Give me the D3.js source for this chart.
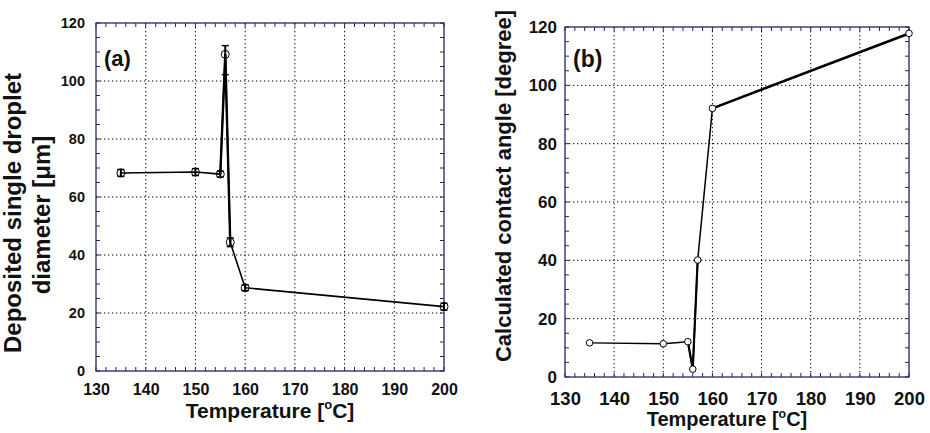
<!DOCTYPE html>
<html><head><meta charset="utf-8">
<script src="https://cdn.jsdelivr.net/npm/d3@7/dist/d3.min.js"></script>
<style>
body{margin:0;background:#fff;}
svg{display:block;font-family:"Liberation Sans",Arial,sans-serif;font-weight:bold;}
</style></head>
<body><svg id="c" width="930" height="433"></svg>
<script>
// ---- data ----
const tempsA = [135, 150, 155, 156, 157, 160, 200];
const diameterA = [68.3, 68.6, 67.9, 109.2, 44.4, 28.7, 22.2];
const errLowA = [1.2, 1.2, 1.0, 7.0, 1.5, 1.0, 1.2];
const errHighA = [1.2, 1.2, 1.0, 3.0, 1.5, 1.0, 1.2];
const tempsB = [135, 150, 155, 156, 157, 160, 200];
const angleB = [11.7, 11.4, 12.1, 2.7, 40.1, 92.1, 117.8];
const xTicks = [130, 140, 150, 160, 170, 180, 190, 200];
const yTicks = [0, 20, 40, 60, 80, 100, 120];

const svg = d3.select("#c");
const frameColor = "#25256a";

function panel(opt) {
  const x = d3.scaleLinear().domain([130, 200]).range([opt.left, opt.right]);
  const y = d3.scaleLinear().domain([0, 120]).range([opt.bottom, opt.top]);
  const g = svg.append("g");
  // grid
  g.selectAll(".gx").data(xTicks.slice(1, -1)).join("line")
    .attr("x1", d => x(d)).attr("x2", d => x(d)).attr("y1", opt.top).attr("y2", opt.bottom)
    .attr("stroke", "#000").attr("stroke-width", 1).attr("stroke-dasharray", "1.3,2.7");
  g.selectAll(".gy").data(yTicks.slice(1, -1)).join("line")
    .attr("y1", d => y(d)).attr("y2", d => y(d)).attr("x1", opt.left).attr("x2", opt.right)
    .attr("stroke", "#000").attr("stroke-width", 1).attr("stroke-dasharray", "1.3,2.7");
  // minor ticks
  const xm = d3.range(130, 201, 2), ym = d3.range(0, 121, 5);
  const tl = 4;
  g.selectAll(".mxb").data(xm).join("line")
    .attr("x1", d => x(d)).attr("x2", d => x(d)).attr("y1", opt.bottom).attr("y2", opt.bottom - tl)
    .attr("stroke", frameColor).attr("stroke-width", 1);
  g.selectAll(".mxt").data(xm).join("line")
    .attr("x1", d => x(d)).attr("x2", d => x(d)).attr("y1", opt.top).attr("y2", opt.top + tl)
    .attr("stroke", frameColor).attr("stroke-width", 1);
  g.selectAll(".myl").data(ym).join("line")
    .attr("y1", d => y(d)).attr("y2", d => y(d)).attr("x1", opt.left).attr("x2", opt.left + tl)
    .attr("stroke", frameColor).attr("stroke-width", 1);
  g.selectAll(".myr").data(ym).join("line")
    .attr("y1", d => y(d)).attr("y2", d => y(d)).attr("x1", opt.right).attr("x2", opt.right - tl)
    .attr("stroke", frameColor).attr("stroke-width", 1);
  // frame
  g.append("rect").attr("x", opt.left).attr("y", opt.top)
    .attr("width", opt.right - opt.left).attr("height", opt.bottom - opt.top)
    .attr("fill", "none").attr("stroke", frameColor).attr("stroke-width", 1.3);
  // tick labels via axes (no lines)
  const ax = g.append("g").attr("transform", `translate(0,${opt.bottom})`)
    .call(d3.axisBottom(x).tickValues(xTicks).tickSize(0).tickPadding(opt.xPad).tickFormat(d3.format("d")));
  ax.select(".domain").remove();
  ax.selectAll("text").attr("font-size", opt.xFs).attr("font-family", "Liberation Sans, Arial").attr("font-weight", "bold").attr("fill", "#111");
  const ay = g.append("g").attr("transform", `translate(${opt.left},0)`)
    .call(d3.axisLeft(y).tickValues(yTicks).tickSize(0).tickPadding(opt.yPad).tickFormat(d3.format("d")));
  ay.select(".domain").remove();
  ay.selectAll("text").attr("font-size", opt.yFs).attr("font-family", "Liberation Sans, Arial").attr("font-weight", "bold").attr("fill", "#111");
  return {x, y, g};
}

function tempTitle(x, y, fs) {
  const t = svg.append("text").attr("text-anchor", "middle").attr("font-size", fs).attr("fill", "#111")
    .attr("x", x).attr("y", y);
  t.append("tspan").text("Temperature [");
  t.append("tspan").text("o").attr("font-size", fs * 0.62).attr("dy", -fs * 0.42);
  t.append("tspan").text("C]").attr("dy", fs * 0.42);
}

// ---- panel (a) ----
const A = panel({left: 96, right: 444, top: 23, bottom: 371, xFs: 16, yFs: 14.5, xPad: 13, yPad: 11});
const lineA = d3.line().x((d, i) => A.x(tempsA[i])).y(d => A.y(d));
A.g.append("path").datum(diameterA).attr("d", lineA)
  .attr("fill", "none").attr("stroke", "#000").attr("stroke-width", 1.6).attr("stroke-linejoin", "round");
A.g.append("path").datum(diameterA.slice(2, 5)).attr("d", d3.line().x((d, i) => A.x(tempsA[i + 2])).y(d => A.y(d)))
  .attr("fill", "none").attr("stroke", "#000").attr("stroke-width", 2.4);
// error bars
tempsA.forEach((t, i) => {
  const cx = A.x(t), y1 = A.y(diameterA[i] - errLowA[i]), y2 = A.y(diameterA[i] + errHighA[i]);
  A.g.append("line").attr("x1", cx).attr("x2", cx).attr("y1", y1).attr("y2", y2).attr("stroke", "#000").attr("stroke-width", 2);
  [y1, y2].forEach(yy => A.g.append("line").attr("x1", cx - 3.5).attr("x2", cx + 3.5).attr("y1", yy).attr("y2", yy).attr("stroke", "#000").attr("stroke-width", 1.5));
});
A.g.selectAll(".pa").data(diameterA).join("circle")
  .attr("cx", (d, i) => A.x(tempsA[i])).attr("cy", d => A.y(d)).attr("r", 4)
  .attr("fill", "none").attr("stroke", "#000").attr("stroke-width", 1);
A.g.append("text").attr("x", 104).attr("y", 66).attr("font-size", 22).text("(a)").attr("fill", "#111");
tempTitle(270, 418, 21);
svg.append("text").attr("transform", "translate(21,213) rotate(-90)").attr("text-anchor", "middle")
  .attr("font-size", 24).attr("fill", "#111").text("Deposited single droplet");
svg.append("text").attr("transform", "translate(50,215) rotate(-90)").attr("text-anchor", "middle")
  .attr("font-size", 24).attr("fill", "#111").text("diameter [μm]");

// ---- panel (b) ----
const B = panel({left: 565, right: 909, top: 27, bottom: 377, xFs: 18.5, yFs: 17, xPad: 15, yPad: 8});
const lineB = d3.line().x((d, i) => B.x(tempsB[i])).y(d => B.y(d));
B.g.append("path").datum(angleB).attr("d", lineB)
  .attr("fill", "none").attr("stroke", "#000").attr("stroke-width", 1.5).attr("stroke-linejoin", "round");
B.g.append("path").datum(angleB.slice(5)).attr("d", d3.line().x((d, i) => B.x(tempsB[i + 5])).y(d => B.y(d)))
  .attr("fill", "none").attr("stroke", "#000").attr("stroke-width", 2.6);
B.g.append("path").datum(angleB.slice(2, 5)).attr("d", d3.line().x((d, i) => B.x(tempsB[i + 2])).y(d => B.y(d)))
  .attr("fill", "none").attr("stroke", "#000").attr("stroke-width", 2.2);
B.g.selectAll(".pb").data(angleB).join("circle")
  .attr("cx", (d, i) => B.x(tempsB[i])).attr("cy", d => B.y(d)).attr("r", 3.3)
  .attr("fill", "#fff").attr("stroke", "#000").attr("stroke-width", 1);
B.g.append("text").attr("x", 573).attr("y", 67).attr("font-size", 23).text("(b)").attr("fill", "#111");
tempTitle(727, 426, 20);
svg.append("text").attr("transform", "translate(511,186) rotate(-90)").attr("text-anchor", "middle")
  .attr("font-size", 22).attr("fill", "#111").text("Calculated contact angle [degree]");
</script></body></html>
